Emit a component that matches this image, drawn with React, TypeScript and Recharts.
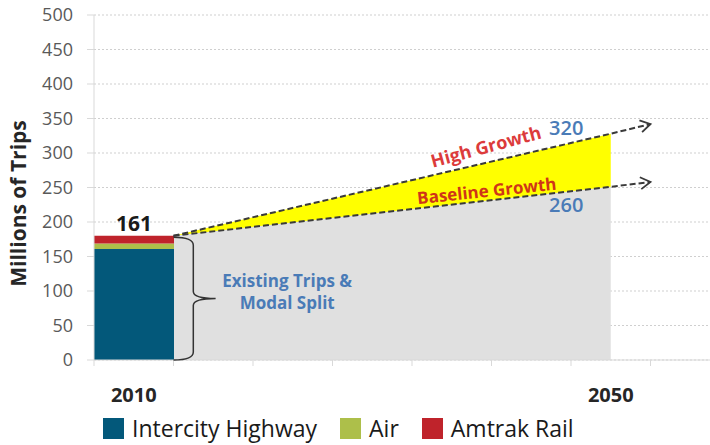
import React from "react";
import {
  ComposedChart,
  Bar,
  Area,
  Line,
  XAxis,
  YAxis,
  CartesianGrid,
  Legend,
  ReferenceArea,
  ReferenceDot,
  LabelList,
} from "recharts";

// one slot per category on the x axis
const years = ["2010", "", "", "", "", "", "2050", ""];
const modeNames = ["Intercity Highway", "Air", "Amtrak Rail"];
const highwayTrips = [161, null, null, null, null, null, null, null];
const airTrips = [8, null, null, null, null, null, null, null];
const railTrips = [11, null, null, null, null, null, null, null];

// projections, placed in slot units (bar edge = 1, 2050 = 6.5, arrow tips = 7)
const projectionPos = [null, 1, null, null, null, null, 6.5, 7];
const baselineGrowth = [null, 180, null, null, null, null, 251, 258];
const highGrowth = [null, 180, null, null, null, null, 328, 342];
const shadedUntil = 6.5;

const yTicks = [0, 50, 100, 150, 200, 250, 300, 350, 400, 450, 500];
const slotTicks = [0, 1, 2, 3, 4, 5, 6, 7, 8];

const inShade = (i: number) => projectionPos[i] != null && (projectionPos[i] as number) <= shadedUntil;

const data = years.map((year, i) => ({
  year,
  pos: projectionPos[i],
  highway: highwayTrips[i],
  air: airTrips[i],
  rail: railTrips[i],
  baseline: baselineGrowth[i],
  high: highGrowth[i],
  baselineArea: inShade(i) ? baselineGrowth[i] : null,
  growthBand: inShade(i) ? [baselineGrowth[i], highGrowth[i]] : null,
}));

const colors = {
  highway: "#03587a",
  air: "#adbf4a",
  rail: "#bf232b",
  grey: "#e0e0e0",
  yellow: "#ffff00",
  dash: "#3a3a3a",
  blueText: "#4a7bb7",
};

const arrowHead = (angle: number) => (props: any) => {
  const { cx, cy, index } = props;
  if (index !== years.length - 1 || cx == null || cy == null) return <g key={`ah-${index}`} />;
  return (
    <path
      key={`ah-${index}`}
      d={`M${cx - 10},${cy - 6} L${cx},${cy} L${cx - 10},${cy + 6}`}
      transform={`rotate(${angle} ${cx} ${cy})`}
      fill="none"
      stroke={colors.dash}
      strokeWidth={1.8}
    />
  );
};

const Brace = (props: any) => {
  const { x, y, width, height } = props;
  const s = x + width * 0.47;
  const r = x + width;
  const m = y + height / 2;
  const b = y + height;
  return (
    <path
      d={`M${x},${y} Q${s},${y} ${s},${y + 8} L${s},${m - 7} Q${s},${m} ${r},${m} Q${s},${m} ${s},${m + 7} L${s},${b - 8} Q${s},${b} ${x},${b}`}
      fill="none"
      stroke="#333"
      strokeWidth={1.5}
    />
  );
};

const YTitle = (p: any) => {
  const vb = p.viewBox;
  const cx = vb.x + 18;
  const cy = vb.y + vb.height / 2 + 16;
  return (
    <text
      x={cx}
      y={cy}
      transform={`rotate(-90 ${cx} ${cy})`}
      textAnchor="middle"
      dominantBaseline="central"
      fontSize={21}
      fontWeight={700}
      fill="#262626"
    >
      Millions of Trips
    </text>
  );
};

const renderLegend = (props: any) => {
  const items = (props.payload || [])
    .filter((e: any) => modeNames.includes(e.value))
    .sort((a: any, b: any) => modeNames.indexOf(a.value) - modeNames.indexOf(b.value));
  return (
    <div style={{ display: "flex", alignItems: "center", whiteSpace: "nowrap" }}>
      {items.map((entry: any) => (
        <div key={entry.value} style={{ display: "flex", alignItems: "center", marginRight: 23 }}>
          <span style={{ display: "inline-block", width: 21, height: 21, background: entry.color, marginRight: 8 }} />
          <span style={{ fontSize: 23, color: "#1a1a1a", lineHeight: "26px" }}>{entry.value}</span>
        </div>
      ))}
    </div>
  );
};

export default function App() {
  return (
    <div
      style={{
        position: "absolute",
        left: 0,
        top: 0,
        width: 710,
        height: 445,
        overflow: "hidden",
        background: "#fff",
        fontFamily: "'Open Sans', sans-serif",
      }}
    >
      <ComposedChart
        width={740}
        height={445}
        data={data}
        barCategoryGap={0}
        margin={{ top: 15, right: 10, bottom: 37, left: 0 }}
      >
        <CartesianGrid vertical={false} stroke="#cfcfcf" strokeDasharray="2 2" />
        <XAxis
          type="number"
          dataKey="pos"
          domain={[0, 8]}
          ticks={slotTicks}
          interval={0}
          tickFormatter={() => ""}
          tickSize={6}
          height={8}
          axisLine={{ stroke: "#d9d9d9" }}
          tickLine={{ stroke: "#d9d9d9" }}
        />
        <XAxis
          xAxisId="c"
          type="category"
          dataKey="year"
          interval={0}
          height={40}
          axisLine={false}
          tickLine={false}
          tickSize={0}
          tickMargin={20}
          tick={{ fontSize: 20, fontWeight: 700, fill: "#262626" }}
        />
        <YAxis
          domain={[0, 500]}
          ticks={yTicks}
          interval={0}
          width={94}
          tickSize={7}
          tickMargin={14}
          tick={{ fontSize: 18, fill: "#595959" }}
          axisLine={{ stroke: "#d9d9d9" }}
          tickLine={{ stroke: "#d9d9d9" }}
          label={{ content: YTitle }}
        />
        <Area
          type="linear"
          dataKey="baselineArea"
          fill={colors.grey}
          fillOpacity={1}
          stroke="none"
          connectNulls
          dot={false}
          activeDot={false}
          legendType="none"
          isAnimationActive={false}
        />
        <Area
          type="linear"
          dataKey="growthBand"
          fill={colors.yellow}
          fillOpacity={1}
          stroke="none"
          connectNulls
          dot={false}
          activeDot={false}
          legendType="none"
          isAnimationActive={false}
        />
        <Bar xAxisId="c" dataKey="highway" name={modeNames[0]} stackId="m" fill={colors.highway} isAnimationActive={false} />
        <Bar xAxisId="c" dataKey="air" name={modeNames[1]} stackId="m" fill={colors.air} isAnimationActive={false} />
        <Bar xAxisId="c" dataKey="rail" name={modeNames[2]} stackId="m" fill={colors.rail} isAnimationActive={false}>
          <LabelList dataKey="highway" position="top" offset={5} fill="#1a1a1a" fontSize={21} fontWeight={700} />
        </Bar>
        <ReferenceArea x1={1} x2={1.53} y1={0} y2={178} shape={<Brace />} zIndex={1200} />
        <Line
          type="linear"
          dataKey="baseline"
          stroke={colors.dash}
          strokeWidth={2}
          strokeDasharray="6 3"
          connectNulls
          dot={arrowHead(-7)}
          activeDot={false}
          legendType="none"
          isAnimationActive={false}
        />
        <Line
          type="linear"
          dataKey="high"
          stroke={colors.dash}
          strokeWidth={2}
          strokeDasharray="6 3"
          connectNulls
          dot={arrowHead(-13)}
          activeDot={false}
          legendType="none"
          isAnimationActive={false}
        />
        <ReferenceDot
          x={4.93}
          y={309}
          r={0}
          fill="none"
          stroke="none"
          zIndex={2000}
          label={{ value: "High Growth", position: "center", angle: -15, fill: "#dc3b3b", fontSize: 18, fontWeight: 700 }}
        />
        <ReferenceDot
          x={4.94}
          y={245}
          r={0}
          fill="none"
          stroke="none"
          zIndex={2000}
          label={{ value: "Baseline Growth", position: "center", angle: -6, fill: "#cf3518", fontSize: 17, fontWeight: 700 }}
        />
        <ReferenceDot
          x={5.94}
          y={336}
          r={0}
          fill="none"
          stroke="none"
          zIndex={2000}
          label={{ value: "320", position: "center", fill: colors.blueText, fontSize: 20, fontWeight: 600 }}
        />
        <ReferenceDot
          x={5.94}
          y={225}
          r={0}
          fill="none"
          stroke="none"
          zIndex={2000}
          label={{ value: "260", position: "center", fill: colors.blueText, fontSize: 20, fontWeight: 600 }}
        />
        <ReferenceDot
          x={2.43}
          y={114}
          r={0}
          fill="none"
          stroke="none"
          zIndex={2000}
          label={{ value: "Existing Trips &", position: "center", fill: colors.blueText, fontSize: 17, fontWeight: 700 }}
        />
        <ReferenceDot
          x={2.43}
          y={82}
          r={0}
          fill="none"
          stroke="none"
          zIndex={2000}
          label={{ value: "Modal Split", position: "center", fill: colors.blueText, fontSize: 17, fontWeight: 700 }}
        />
        <Legend
          verticalAlign="middle"
          align="center"
          layout="horizontal"
          content={renderLegend}
          wrapperStyle={{ top: 415, left: 103, bottom: "auto", width: "auto" }}
        />
      </ComposedChart>
    </div>
  );
}
